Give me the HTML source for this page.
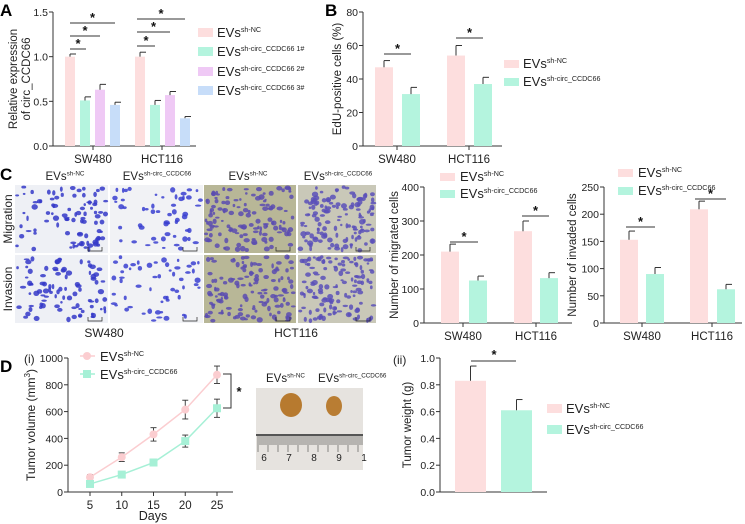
<!DOCTYPE html>
<html><head><meta charset="utf-8"><style>
html,body{margin:0;padding:0;background:#fff}
svg{display:block;font-family:"Liberation Sans",Arial,sans-serif}
</style></head><body>
<svg id="fig" width="745" height="524" viewBox="0 0 745 524" xmlns="http://www.w3.org/2000/svg"></svg>
<script>
// ---------- DATA ----------
const groupsAB = ["SW480","HCT116"];
const aSeriesNames = ["sh-NC","sh-circ_CCDC66 1#","sh-circ_CCDC66 2#","sh-circ_CCDC66 3#"];
const aValues = [[1.0,0.51,0.63,0.46],[1.0,0.46,0.57,0.31]];
const aErrors = [[0.03,0.04,0.06,0.03],[0.05,0.05,0.04,0.02]];
const aTicks = [0.0,0.5,1.0,1.5];
const bValues = [[47,31],[54,37]];
const bErrors = [[4,4],[6,4]];
const bTicks = [0,20,40,60,80];
const migValues = [[210,125],[270,132]];
const migErrors = [[22,13],[30,16]];
const migTicks = [0,100,200,300,400];
const invValues = [[153,90],[209,62]];
const invErrors = [[16,12],[15,9]];
const invTicks = [0,50,100,150,200,250];
const days = [5,10,15,20,25];
const volNC = [110,260,430,615,875];
const volNCerr = [20,32,50,70,65];
const volSh = [60,130,220,380,625];
const volShErr = [12,15,25,45,68];
const volTicks = [0,200,400,600,800,1000];
const wtValues = [0.83,0.61];
const wtErrors = [0.11,0.08];
const wtTicks = [0.0,0.2,0.4,0.6,0.8,1.0];

const PINK="#fddede", GREEN="#b4f4de", PURPLE="#efc9f5", BLUE="#c7ddf9";
const svg=document.getElementById('fig');
const NS="http://www.w3.org/2000/svg";
function el(tag,attrs,parent,text){const e=document.createElementNS(NS,tag);for(const k in attrs)e.setAttribute(k,attrs[k]);if(text!==undefined)e.textContent=text;(parent||svg).appendChild(e);return e;}
function grp(name,parent){const g=el('g',{},parent);


return g;}
function txt(parent,x,y,s,size,anchor,name,extra){const t=el('text',Object.assign({x:x,y:y,'font-size':size,'text-anchor':anchor||'start',fill:'#222'},extra||{}),parent,s);


return t;}
function evs(parent,x,y,sup,size,name){const t=el('text',{x:x,y:y,'font-size':size,fill:'#222'},parent);


el('tspan',{},t,'EVs');el('tspan',{'font-size':size*0.55,dy:-size*0.4},t,sup);return t;}
function panelLetter(x,y,s){const t=txt(svg,x,y,s,17,'start','panel-label-'+s.toLowerCase(),{'font-weight':'bold',fill:'#000'});}
function line(p,x1,y1,x2,y2,w){return el('line',{x1:x1,y1:y1,x2:x2,y2:y2,stroke:'#333','stroke-width':w||1},p);}
function star(p,x,y){const t=txt(p,x,y,'*',13,'middle','significance-star',{'font-weight':'bold',fill:'#111'});}

function barChart(o){
  const g=grp(o.name);
  const sy=v=>o.y0-(v-o.ticks[0])/(o.ticks[o.ticks.length-1]-o.ticks[0])*(o.y0-o.y1);
  line(g,o.ax,o.y1,o.ax,o.y0);line(g,o.ax,o.y0,o.axEnd,o.y0);
  o.ticks.forEach(t=>{line(g,o.ax-4,sy(t),o.ax,sy(t));txt(g,o.ax-5,sy(t)+4,o.fmt(t),10.5,'end','y-tick-label');});
  o.values.forEach((grpV,gi)=>{
    grpV.forEach((v,si)=>{
      const x=o.barX[gi][si];
      const r=el('rect',{x:x,y:sy(v),width:o.bw,height:o.y0-sy(v),fill:o.colors[si]},g);
      
      
      const ey=sy(v+o.errors[gi][si]);
      line(g,x+o.bw/2,sy(v),x+o.bw/2,ey);line(g,x+o.bw/2,ey,x+o.bw/2+6,ey);
    });
    const cx=o.groupCx[gi];line(g,cx,o.y0,cx,o.y0+4);
    txt(g,cx,o.y0+17,o.groups[gi],11.5,'middle','x-tick-label');
  });
  txt(g,0,0,o.ylabel[0],11.5,'middle','y-axis-title',{transform:`translate(${o.ylx},${(o.y0+o.y1)/2}) rotate(-90)`});
  if(o.ylabel[1])txt(g,0,0,o.ylabel[1],11.5,'middle','y-axis-title-line2',{transform:`translate(${o.ylx+13},${(o.y0+o.y1)/2}) rotate(-90)`});
  return {g,sy};
}
const fmt1=t=>t.toFixed(1);const fmt0=t=>String(t);

// ---------- PANEL A ----------
panelLetter(0,16,'A');
const A=barChart({name:'chart-a-relative-expression',ax:53,y0:146,y1:12,axEnd:196,ticks:aTicks,fmt:fmt1,values:aValues,errors:aErrors,
 groups:groupsAB,colors:[PINK,GREEN,PURPLE,BLUE],bw:10,barX:[[65,80,95,110],[135,150,165,180]],groupCx:[93,162],ylabel:['Relative expression','of circ_CCDC66'],ylx:17});
[[70,86,49],[70,100,36],[70,115,23],[137,155,46],[137,170,32],[137,185,19]].forEach(s=>{line(A.g,s[0],s[2],s[1],s[2]);star(A.g,(s[0]+s[1])/2,s[2]-1);});
const aLeg=grp('legend-a');
[[PINK,'sh-NC',32],[GREEN,'sh-circ_CCDC66 1#',51],[PURPLE,'sh-circ_CCDC66 2#',71],[BLUE,'sh-circ_CCDC66 3#',90]].forEach((l,i)=>{
 el('rect',{x:198,y:l[2]-4,width:15,height:9,fill:l[0]},aLeg);evs(aLeg,217,l[2]+5,l[1],13,'legend-entry');});

// ---------- PANEL B ----------
panelLetter(325,16,'B');
const B=barChart({name:'chart-b-edu',ax:363,y0:146,y1:12,axEnd:502,ticks:bTicks,fmt:fmt0,values:bValues,errors:bErrors,
 groups:groupsAB,colors:[PINK,GREEN],bw:18,barX:[[375,402],[447,474]],groupCx:[397,469],ylabel:['EdU-positive cells (%)'],ylx:341});
[[384,411,54],[456,483,38]].forEach(s=>{line(B.g,s[0],s[2],s[1],s[2]);star(B.g,(s[0]+s[1])/2,s[2]-1);});
const bLeg=grp('legend-b');
el('rect',{x:504,y:60,width:15,height:8,fill:PINK},bLeg);evs(bLeg,523,68,'sh-NC',13,'legend-entry');
el('rect',{x:504,y:78,width:15,height:8,fill:GREEN},bLeg);evs(bLeg,523,86,'sh-circ_CCDC66',13,'legend-entry');

// ---------- PANEL C images ----------
panelLetter(0,180,'C');
let seed=7;function rnd(){seed=(seed*16807)%2147483647;return seed/2147483647;}
const imgs=grp('micrographs');
const cols=[[15,93],[110,93],[204,92],[298,78]];
const rows=[[185,68],[255,68]];
const bgs=['#eef0f5','#f1f2f5','#b8b797','#c9c8b8'];
const cells=['#3438c8','#3a40d0','#5b4cb0','#5b50b8'];
rows.forEach((r,ri)=>cols.forEach((c,ci)=>{
  const g=grp('micrograph-'+(ri?'invasion':'migration')+'-'+ci,imgs);
  el('rect',{x:c[0],y:r[0],width:c[1],height:r[1],fill:bgs[ci]},g);
  const n=ci<2?(ci==0?90:55):130;
  for(let i=0;i<n;i++){const cx=c[0]+2+rnd()*(c[1]-4),cy=r[0]+2+rnd()*(r[1]-4);
    el('ellipse',{cx:cx,cy:cy,rx:1.2+rnd()*2,ry:1+rnd()*1.8,fill:cells[ci],opacity:0.85},g);}
  el('path',{d:`M${c[0]+c[1]-20} ${r[0]+r[1]-6} v4 h14 v-4`,fill:'none',stroke:'#222','stroke-width':0.7},g);
}));
const colLab=[['sh-NC',65],['sh-circ_CCDC66',157],['sh-NC',248],['sh-circ_CCDC66',338]];
colLab.forEach(l=>{const t=evs(imgs,0,180,l[0],11.5,'column-label');t.setAttribute('text-anchor','middle');t.setAttribute('x',l[1]);});
txt(imgs,0,0,'Migration',12,'middle','row-label-migration',{transform:'translate(12,219) rotate(-90)'});
txt(imgs,0,0,'Invasion',12,'middle','row-label-invasion',{transform:'translate(12,289) rotate(-90)'});
txt(imgs,104,337,'SW480',12,'middle','cell-line-label');
txt(imgs,296,337,'HCT116',12,'middle','cell-line-label');

// ---------- PANEL C charts ----------
const M=barChart({name:'chart-c-migrated',ax:424,y0:323,y1:187,axEnd:572,ticks:migTicks,fmt:fmt0,values:migValues,errors:migErrors,
 groups:groupsAB,colors:[PINK,GREEN],bw:18,barX:[[441,469],[514,540]],groupCx:[463,536],ylabel:['Number of migrated cells'],ylx:398});
[[450,478,242],[522,549,216]].forEach(s=>{line(M.g,s[0],s[2],s[1],s[2]);star(M.g,(s[0]+s[1])/2,s[2]-1);});
const mLeg=grp('legend-c-migrated');
el('rect',{x:440,y:173,width:15,height:8,fill:PINK},mLeg);evs(mLeg,460,181,'sh-NC',13,'legend-entry');
el('rect',{x:440,y:190,width:15,height:8,fill:GREEN},mLeg);evs(mLeg,460,198,'sh-circ_CCDC66',13,'legend-entry');

const I=barChart({name:'chart-c-invaded',ax:604,y0:323,y1:187,axEnd:742,ticks:invTicks,fmt:fmt0,values:invValues,errors:invErrors,
 groups:groupsAB,colors:[PINK,GREEN],bw:18,barX:[[620,646],[690,717]],groupCx:[642,712],ylabel:['Number of invaded cells'],ylx:576});
[[626,655,227],[695,726,199]].forEach(s=>{line(I.g,s[0],s[2],s[1],s[2]);star(I.g,(s[0]+s[1])/2,s[2]-1);});
const iLeg=grp('legend-c-invaded');
el('rect',{x:618,y:169,width:15,height:8,fill:PINK},iLeg);evs(iLeg,638,177,'sh-NC',13,'legend-entry');
el('rect',{x:618,y:187,width:15,height:8,fill:GREEN},iLeg);evs(iLeg,638,195,'sh-circ_CCDC66',13,'legend-entry');

// ---------- PANEL D(i) line chart ----------
panelLetter(0,372,'D');
const dG=grp('chart-d-tumor-volume');
txt(dG,24,363,'(i)',12,'start','subpanel-label-i');
const dx0=68,dy0=492,dy1=358;
const sxD=d=>90+(d-days[0])/(days[days.length-1]-days[0])*(217-90);
const syD=v=>dy0-v/volTicks[volTicks.length-1]*(dy0-dy1);
line(dG,dx0,dy1,dx0,dy0);line(dG,dx0,dy0,233,dy0);
volTicks.forEach(t=>{line(dG,dx0-4,syD(t),dx0,syD(t));txt(dG,dx0-5,syD(t)+4,String(t),10.5,'end','y-tick-label');});
days.forEach(d=>{line(dG,sxD(d),dy0,sxD(d),dy0+4);txt(dG,sxD(d),dy0+17,String(d),11.5,'middle','x-tick-label');});
txt(dG,153,520,'Days',12.5,'middle','x-axis-title');
const yt=el('text',{'font-size':12,'text-anchor':'middle',fill:'#222',transform:`translate(35,${(dy0+dy1)/2}) rotate(-90)`},dG);


el('tspan',{},yt,'Tumor volume (mm');el('tspan',{'font-size':8,dy:-5},yt,'3');el('tspan',{dy:5},yt,')');
function series(vals,errs,color,marker,name){
  const g=grp(name,dG);
  el('polyline',{points:days.map((d,i)=>sxD(d)+','+syD(vals[i])).join(' '),fill:'none',stroke:color,'stroke-width':1.5},g);
  days.forEach((d,i)=>{const x=sxD(d),y=syD(vals[i]);
    line(g,x,syD(vals[i]-errs[i]),x,syD(vals[i]+errs[i]),0.9);
    line(g,x-3,syD(vals[i]+errs[i]),x+3,syD(vals[i]+errs[i]),0.9);line(g,x-3,syD(vals[i]-errs[i]),x+3,syD(vals[i]-errs[i]),0.9);
    const m=marker=='c'?el('circle',{cx:x,cy:y,r:4,fill:color},g):el('rect',{x:x-4,y:y-4,width:8,height:8,fill:color},g);
    
    });
}
series(volNC,volNCerr,'#fbcdd0','c','series-sh-nc');
series(volSh,volShErr,'#a6f0d6','s','series-sh-circ');
el('line',{x1:80,y1:356,x2:95,y2:356,stroke:'#fbcdd0','stroke-width':1.5},dG);el('circle',{cx:87,cy:356,r:4,fill:'#fbcdd0'},dG);
evs(dG,100,361,'sh-NC',13,'legend-entry');
el('line',{x1:80,y1:374,x2:95,y2:374,stroke:'#a6f0d6','stroke-width':1.5},dG);el('rect',{x:83,y:370,width:8,height:8,fill:'#a6f0d6'},dG);
evs(dG,100,379,'sh-circ_CCDC66',13,'legend-entry');
el('path',{d:'M223 374 H231 V408 H223',fill:'none',stroke:'#333','stroke-width':1},dG);
star(dG,239,396);

// photo
const ph=grp('tumor-photo');
el('rect',{x:256,y:388,width:107,height:82,fill:'#e6e3df'},ph);
el('ellipse',{cx:291,cy:405,rx:11,ry:12,fill:'#b77a2f'},ph);
el('ellipse',{cx:334,cy:406,rx:8,ry:10,fill:'#b97d33'},ph);
el('rect',{x:256,y:434,width:107,height:2,fill:'#555'},ph);
for(let i=0;i<=52;i++){el('line',{x1:258+i*2,y1:436,x2:258+i*2,y2:i%5==0?452:445,stroke:'#444','stroke-width':0.6},ph);}
['6','7','8','9','1'].forEach((s,i)=>txt(ph,264+i*25,461,s,10,'middle','ruler-number'));
evs(ph,266,382,'sh-NC',11.5,'photo-label-sh-nc');
evs(ph,318,382,'sh-circ_CCDC66',11.5,'photo-label-sh-circ');

// ---------- PANEL D(ii) ----------
const W=barChart({name:'chart-d-tumor-weight',ax:440,y0:492,y1:358,axEnd:547,ticks:wtTicks,fmt:fmt1,values:[wtValues],errors:[wtErrors],
 groups:[''],colors:[PINK,GREEN],bw:31,barX:[[455,501]],groupCx:[-100],ylabel:['Tumor weight (g)'],ylx:411});
txt(W.g,393,364,'(ii)',12,'start','subpanel-label-ii');
line(W.g,471,361,516,361);star(W.g,494,359);
const wLeg=grp('legend-d-weight');
el('rect',{x:547,y:404,width:15,height:9,fill:PINK},wLeg);evs(wLeg,566,413,'sh-NC',13,'legend-entry');
el('rect',{x:547,y:425,width:15,height:9,fill:GREEN},wLeg);evs(wLeg,566,434,'sh-circ_CCDC66',13,'legend-entry');
</script>
</body></html>
